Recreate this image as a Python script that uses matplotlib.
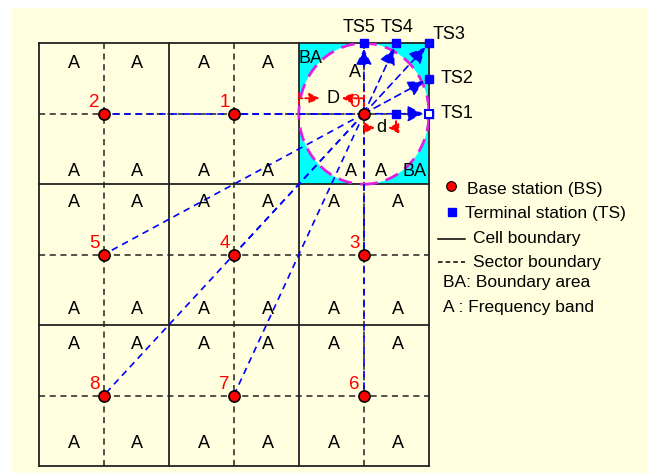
"""Cellular layout: base stations, terminal stations and boundary area."""

import matplotlib.pyplot as plt
from matplotlib.patches import Ellipse, Rectangle

BG = "#FFFFE0"

# base stations (cell units, origin bottom-left of the 3x3 grid)
bs_ids = ["0", "1", "2", "3", "4", "5", "6", "7", "8"]
bs_x = [2.5, 1.5, 0.5, 2.5, 1.5, 0.5, 2.5, 1.5, 0.5]
bs_y = [2.5, 2.5, 2.5, 1.5, 1.5, 1.5, 0.5, 0.5, 0.5]

# terminal stations around BS 0
ts_names = ["TS1", "TS2", "TS3", "TS4", "TS5"]
ts_x = [3.0, 3.0, 3.0, 2.75, 2.5]
ts_y = [2.5, 2.75, 3.0, 3.0, 3.0]
ts_label_x = [3.09, 3.09, 3.03, 2.755, 2.46]
ts_label_y = [2.5, 2.75, 3.065, 3.115, 3.115]
ts_label_ha = ["left", "left", "left", "center", "center"]
inner_ts = (2.75, 2.5)  # TS at distance d

# frequency band labels in the ordinary cells
band_x = [0.27, 0.76, 1.27, 1.76, 2.27, 2.76]
band_y = [2.86, 2.09, 1.87, 1.11, 0.86, 0.16]
# labels inside the boundary-area cell
ba_cell_text = ["BA", "A", "A", "A", "BA"]
ba_cell_x = [2.09, 2.43, 2.40, 2.63, 2.885]
ba_cell_y = [2.89, 2.79, 2.09, 2.09, 2.09]

legend_text = ["Base station (BS)", "Terminal station (TS)", "Cell boundary",
               "Sector boundary", "BA: Boundary area", "A : Frequency band"]

plt.rcParams["font.family"] = ["Liberation Sans", "DejaVu Sans"]

fig = plt.figure(figsize=(6.48, 4.73), dpi=100)
fig.patch.set_facecolor("white")
fig.patches.append(Rectangle((12 / 648, 0), 1, 1 - 8 / 473, transform=fig.transFigure,
                             facecolor=BG, edgecolor="none", zorder=-5))
ax = fig.add_axes([38.5 / 648, 7 / 473, 390.5 / 648, 422.7 / 473])
ax.set_xlim(0, 3)
ax.set_ylim(0, 3)
ax.axis("off")

# boundary area: cyan cell with the coverage circle cut out
ax.add_patch(Rectangle((2, 2), 1, 1, facecolor="#00FFFF", edgecolor="none", zorder=1))
ax.add_patch(Ellipse((2.5, 2.5), 1, 1, facecolor=BG, edgecolor="none", zorder=1.5))

# sector boundaries
for v in [0.5, 1.5, 2.5]:
    ax.plot([v, v], [0, 3], color="#222222", ls=(0, (4, 3)), lw=1.1, zorder=2)
    ax.plot([0, 3], [v, v], color="#222222", ls=(0, (4, 3)), lw=1.1, zorder=2)
# cell boundaries
for v in [0, 1, 2, 3]:
    ax.plot([v, v], [0, 3], color="#222222", lw=1.3, zorder=2.5, clip_on=False)
    ax.plot([0, 3], [v, v], color="#222222", lw=1.3, zorder=2.5, clip_on=False)

ax.add_patch(Ellipse((2.5, 2.5), 1, 1, facecolor="none", edgecolor="#E020E0",
                     ls=(0, (5, 3)), lw=2, zorder=3))

# interference links from BS 0 to the other base stations
for x, y in zip(bs_x[1:], bs_y[1:]):
    ax.plot([bs_x[0], x], [bs_y[0], y], color="blue", ls=(0, (4, 3)), lw=1.2, zorder=4)

# links from BS 0 to the terminal stations
for x, y in zip(ts_x, ts_y):
    ax.annotate("", xy=(x, y), xytext=(bs_x[0], bs_y[0]),
                arrowprops=dict(arrowstyle="-|>", color="blue", lw=1.2, ls=(0, (4, 3)),
                                mutation_scale=24, shrinkA=0, shrinkB=4),
                zorder=4, annotation_clip=False)
ax.plot(ts_x, ts_y, "s", color="blue", ms=6, zorder=6, clip_on=False)
ax.plot(ts_x[0], ts_y[0], "s", mfc="white", mec="blue", mew=1.5, ms=6, zorder=6.5,
        clip_on=False)
ax.plot(*inner_ts, "s", color="blue", ms=6, zorder=6)
for name, x, y, ha in zip(ts_names, ts_label_x, ts_label_y, ts_label_ha):
    ax.text(x, y, name, fontsize=13, ha=ha, va="center", zorder=7)

# D and d distance markers
red_arrow = dict(arrowstyle="-|>", color="red", lw=1.3, ls=(0, (2, 1.5)),
                 mutation_scale=15, shrinkA=0, shrinkB=0)
ax.plot([2.0, 2.0], [2.57, 2.66], color="red", ls=(0, (2, 1.5)), lw=1.5, zorder=5)
ax.plot([2.5, 2.5], [2.5, 2.66], color="red", ls=(0, (2, 1.5)), lw=1.5, zorder=5)
ax.annotate("", xy=(2.16, 2.61), xytext=(2.0, 2.61), arrowprops=red_arrow, zorder=5)
ax.annotate("", xy=(2.33, 2.61), xytext=(2.5, 2.61), arrowprops=red_arrow, zorder=5)
ax.text(2.26, 2.61, "D", fontsize=13, ha="center", va="center", zorder=7)
ax.plot([2.75, 2.75], [2.37, 2.5], color="red", ls=(0, (2, 1.5)), lw=1.5, zorder=5)
ax.annotate("", xy=(2.585, 2.40), xytext=(2.5, 2.40), arrowprops=red_arrow, zorder=5)
ax.annotate("", xy=(2.685, 2.40), xytext=(2.75, 2.40), arrowprops=red_arrow, zorder=5)
ax.text(2.635, 2.40, "d", fontsize=13, ha="center", va="center", zorder=7)

# base stations
ax.plot(bs_x, bs_y, "o", mfc="red", mec="black", mew=1.2, ms=8, zorder=8)
for name, x, y in zip(bs_ids, bs_x, bs_y):
    ax.annotate(name, (x, y), xytext=(-3, 2), textcoords="offset points",
                ha="right", va="bottom", color="red", fontsize=13.5, zorder=7)

# frequency band labels
for col in range(3):
    for row in range(3):
        if col == 2 and row == 0:
            continue
        for bx in band_x[2 * col:2 * col + 2]:
            for by in band_y[2 * row:2 * row + 2]:
                ax.text(bx, by, "A", fontsize=13, ha="center", va="center", zorder=7)
for t, x, y in zip(ba_cell_text, ba_cell_x, ba_cell_y):
    ax.text(x, y, t, fontsize=13, ha="center", va="center", zorder=7)

# legend
ax.plot(3.167, 1.99, "o", mfc="red", mec="black", mew=0.8, ms=7, clip_on=False)
ax.plot(3.175, 1.805, "s", color="blue", ms=5.5, clip_on=False)
ax.plot([3.07, 3.28], [1.613, 1.613], color="black", lw=1.1, clip_on=False)
ax.plot([3.07, 3.28], [1.45, 1.45], color="black", lw=1.1, ls=(0, (3, 2)), clip_on=False)
leg_x = [3.29, 3.28, 3.336, 3.336, 3.106, 3.106]
leg_y = [1.96, 1.79, 1.613, 1.443, 1.30, 1.123]
for t, x, y in zip(legend_text, leg_x, leg_y):
    ax.text(x, y, t, fontsize=12.5, ha="left", va="center")

fig.savefig("out.png", dpi=100, facecolor=fig.get_facecolor())
